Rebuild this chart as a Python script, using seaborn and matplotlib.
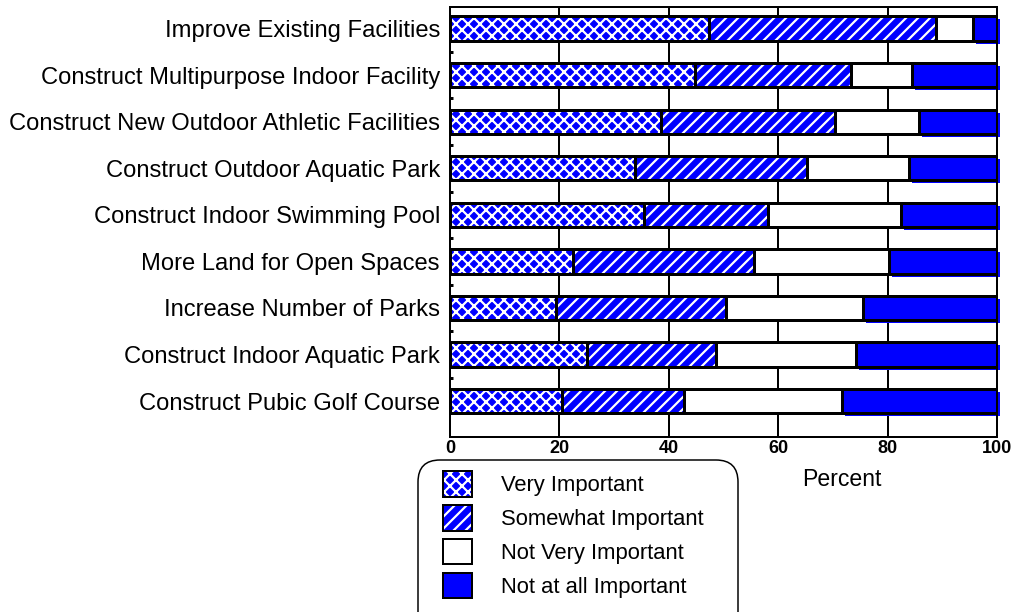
import matplotlib
matplotlib.use('Agg')
import matplotlib.pyplot as plt
import matplotlib.patheffects as pe
from matplotlib.patches import Patch, FancyBboxPatch
from matplotlib.legend_handler import HandlerTuple
from matplotlib.transforms import IdentityTransform
import numpy as np
import pandas as pd
import seaborn as sns

# survey data (percent of respondents)
projects = ['Improve Existing Facilities', 'Construct Multipurpose Indoor Facility',
            'Construct New Outdoor Athletic Facilities', 'Construct Outdoor Aquatic Park',
            'Construct Indoor Swimming Pool', 'More Land for Open Spaces',
            'Increase Number of Parks', 'Construct Indoor Aquatic Park',
            'Construct Pubic Golf Course']
very_important = [47.3, 44.8, 38.5, 33.8, 35.4, 22.5, 19.3, 25.1, 20.4]
somewhat_important = [41.5, 28.5, 31.9, 31.4, 22.7, 33.1, 31.1, 23.5, 22.3]
not_very_important = [6.9, 11.2, 15.3, 18.7, 24.3, 24.6, 25.1, 25.7, 29.0]
not_at_all_important = [4.3, 15.5, 14.3, 16.1, 17.6, 19.8, 24.5, 25.7, 28.3]
legend_labels = ['Very Important', 'Somewhat Important', 'Not Very Important', 'Not at all Important']

df = pd.DataFrame({'project': projects, 'vi': very_important, 'sw': somewhat_important,
                   'nvi': not_very_important, 'nai': not_at_all_important})
df['c1'] = df['vi']
df['c2'] = df['c1'] + df['sw']
df['c3'] = df['c2'] + df['nvi']
df['c4'] = df['c3'] + df['nai']

sns.set_style('white')
plt.rcParams['font.family'] = ['Liberation Sans', 'DejaVu Sans']
plt.rcParams['hatch.linewidth'] = 2.2
plt.rcParams['text.color'] = 'black'
plt.rcParams['axes.labelcolor'] = 'black'
plt.rcParams['xtick.color'] = 'black'
plt.rcParams['ytick.color'] = 'black'

DPI = 72
fig = plt.figure(figsize=(1034 / DPI, 612 / DPI), dpi=DPI)
ax = fig.add_axes([0.4352, 0.2859, 0.529, 0.7026])

bar_h = 0.52
common = dict(data=df, y='project', orient='h', width=bar_h, saturation=1, errorbar=None, ax=ax)

# full bar (Not at all Important shows through on the right)
sns.barplot(x='c4', color='blue', edgecolor='black', linewidth=3, **common)
# blue drop shadow under the last segment
ax.barh(np.arange(len(projects)), df['nai'], left=df['c3'], height=bar_h, color='blue',
        linewidth=0, zorder=0.9, clip_on=False,
        path_effects=[pe.SimplePatchShadow(offset=(3, -3), shadow_rgbFace='blue', alpha=1.0)])
# Not Very Important
sns.barplot(x='c3', color='white', edgecolor='black', linewidth=3, **common)
# Somewhat Important (stripes)
sns.barplot(x='c2', color='blue', edgecolor='white', hatch='//', linewidth=0, **common)
sns.barplot(x='c2', color='black', facecolor='none', edgecolor='black', linewidth=3, **common)
# Very Important (crosshatch)
sns.barplot(x='c1', color='blue', edgecolor='white', hatch='xx', linewidth=0, **common)
sns.barplot(x='c1', color='black', facecolor='none', edgecolor='black', linewidth=3, **common)

ax.set_xlim(0, 100)
ax.set_ylim(len(projects) - 1 + 0.77, -0.46)
ax.set_xticks(range(0, 101, 20))
ax.set_axisbelow(True)
ax.xaxis.grid(True, color='black', linewidth=2)
ax.yaxis.grid(False)
for s in ax.spines.values():
    s.set_color('black')
    s.set_linewidth(2)

ax.tick_params(axis='y', which='major', length=0, pad=10, labelsize=23.7)
ax.set_yticks(np.arange(len(projects) - 1) + 0.5, minor=True)
ax.tick_params(axis='y', which='minor', direction='in', length=3, width=3, left=True, color='black')
ax.tick_params(axis='x', length=0, pad=3, labelsize=18)
for lbl in ax.get_xticklabels():
    lbl.set_fontweight('bold')
ax.set_ylabel('')
ax.set_xlabel('Percent', fontsize=23)
ax.xaxis.set_label_coords(0.717, -0.072)

# legend
handles = [
    (Patch(facecolor='blue', edgecolor='white', hatch='xx', linewidth=0),
     Patch(facecolor='none', edgecolor='black', linewidth=2)),
    (Patch(facecolor='blue', edgecolor='white', hatch='//', linewidth=0),
     Patch(facecolor='none', edgecolor='black', linewidth=2)),
    Patch(facecolor='white', edgecolor='black', linewidth=2),
    Patch(facecolor='blue', edgecolor='black', linewidth=2),
]
fig.legend(handles, legend_labels, handler_map={tuple: HandlerTuple(ndivide=1, pad=0)},
           loc='upper left', bbox_to_anchor=(443 / 1034, 1 - 471 / 612),
           frameon=False, fontsize=22, handlelength=1.32, handleheight=1.42,
           labelspacing=0.37, handletextpad=1.32, borderpad=0, borderaxespad=0)
frame = FancyBboxPatch((418, -40), 320, 192, boxstyle='round,pad=0,rounding_size=22',
                       facecolor='none', edgecolor='black', linewidth=1.5,
                       transform=IdentityTransform())
fig.add_artist(frame)

fig.savefig('out.png', dpi=DPI)
